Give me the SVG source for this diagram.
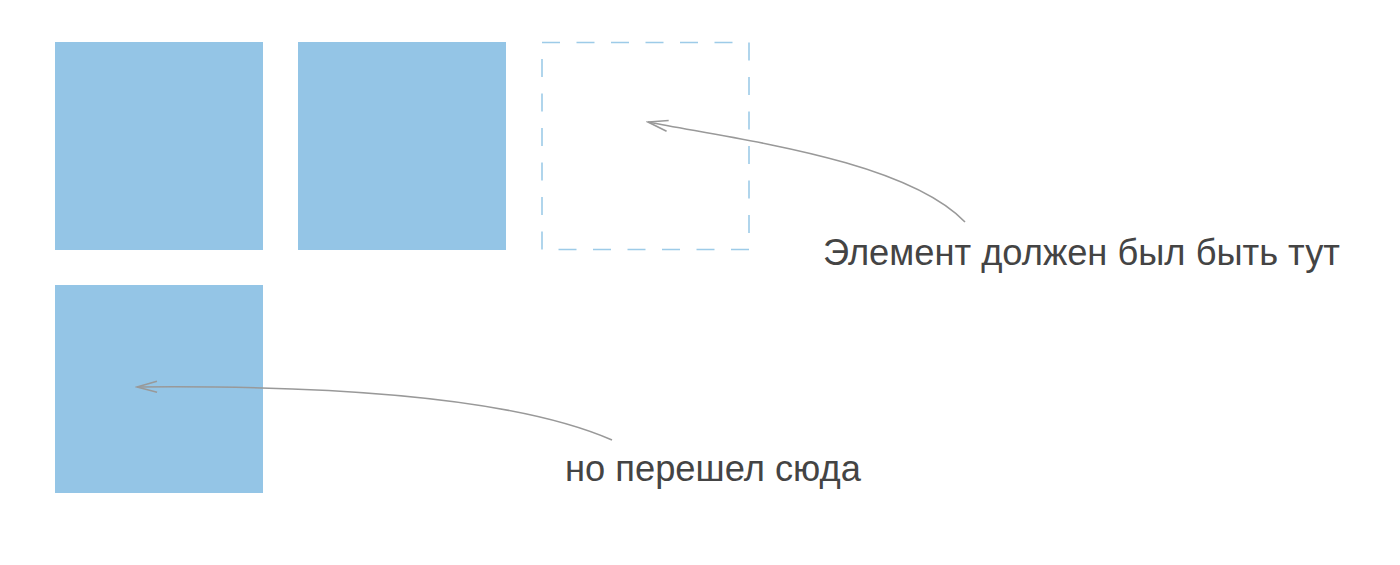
<svg xmlns="http://www.w3.org/2000/svg" width="1400" height="565" viewBox="0 0 1400 565">
<style>
.box{fill:#94c5e6}
.ghost{fill:none;stroke:#9dcbe8;stroke-width:1.6;stroke-dasharray:18 16.5}
.conn{fill:none;stroke:#999;stroke-width:1.6}
.lbl{font-family:"Liberation Sans",Arial,sans-serif;font-size:36.3px;fill:#444}
</style>
<defs>
<marker id="arr" viewBox="-22 -8 24 16" refX="0" refY="0" markerWidth="24" markerHeight="16" markerUnits="userSpaceOnUse" orient="auto">
<path d="M-20,-5.5 L0,0 L-20,5.5" fill="none" stroke="#999" stroke-width="1.6"/>
</marker>
</defs>
<rect width="1400" height="565" fill="#fff"/>
<g id="box1"><rect class="box" x="55" y="42" width="208" height="208"/></g>
<g id="box2"><rect class="box" x="298" y="42" width="208" height="208"/></g>
<g id="ghost"><rect class="ghost" x="542" y="42.5" width="207" height="207"/></g>
<g id="box3"><rect class="box" x="55" y="285" width="208" height="208"/></g>
<g id="connectors">
<path class="conn" d="M965,222 C905,160 740,140 648,122" marker-end="url(#arr)"/>
<path class="conn" d="M612,440 C520,400 350,385 137,387" marker-end="url(#arr)"/>
</g>
<g id="label1"><text class="lbl" x="823" y="265">Элемент должен был быть тут</text></g>
<g id="label2"><text class="lbl" x="565" y="481">но перешел сюда</text></g>
</svg>
